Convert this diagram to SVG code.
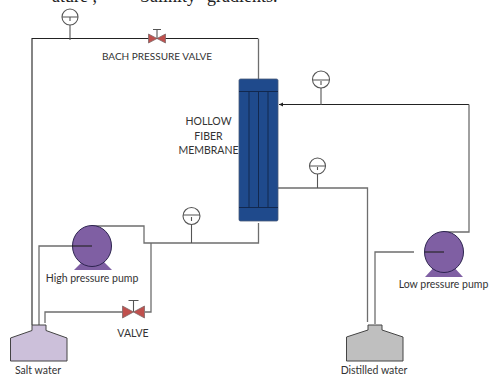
<svg xmlns="http://www.w3.org/2000/svg" width="490" height="375" viewBox="0 0 490 375">
<style>
.t{font-family:Lato,"Liberation Sans",sans-serif;font-size:10.5px;fill:#333;text-anchor:middle}
.top{font-family:"Liberation Serif",serif;font-size:18px;fill:#222}
.p{fill:none;stroke:#6e6e6e;stroke-width:1.3}
.k{fill:none;stroke:#222;stroke-width:1.1}
.g{fill:#fff;stroke:#555;stroke-width:1.1}
.gl{fill:none;stroke:#555;stroke-width:1.1}
.v{fill:#c0504d;stroke:#7f6a6a;stroke-width:.8}
.pump{fill:#7f5fa3;stroke:#2d2450;stroke-width:1}
.pb{fill:#7f5fa3}
.ml{stroke:#12284f;stroke-width:1;fill:none}
</style>
<defs>
<marker id="a" markerWidth="5" markerHeight="5" refX="4" refY="2" orient="auto"><path d="M0 0L4 2L0 4Z" fill="#222"/></marker>
</defs>
<rect width="490" height="375" fill="#fff"/>
<text class="top" y="1.500"><tspan x="52">ature ,</tspan><tspan x="140">Salinity</tspan><tspan x="207">gradients.</tspan></text>
<g id="connectors">
<path class="k" d="M32 325V38.500H258"/>
<path class="p" d="M258.500 38.500V79"/>
<path class="k" marker-end="url(#a)" d="M469 104.500H279"/>
<path class="p" d="M469 104.500V232H443"/>
<path class="p" d="M278 188H367.500V322"/>
<path class="p" d="M375 324V252H414"/>
<path class="p" d="M39 325V246H72"/>
<path class="p" d="M92 226H144V243H258.500V223"/>
<path class="p" d="M151 243V312H145"/>
<path class="p" d="M123 312H45V323"/>
</g>
<g id="gauge-1"><path class="gl" d="M70 25V40"/><circle class="g" cx="70" cy="17" r="8"/><path class="gl" d="M62 17H78M70 17V21"/></g>
<g id="gauge-2"><path class="gl" d="M321 88V105"/><circle class="g" cx="321" cy="79.500" r="8.500"/><path class="gl" d="M313 80H329M321 81V85"/></g>
<g id="gauge-3"><path class="gl" d="M317.500 174V188"/><circle class="g" cx="317.500" cy="166" r="8"/><path class="gl" d="M310 166H325M317.500 167V170"/></g>
<g id="gauge-4"><path class="gl" d="M191.500 224V243"/><circle class="g" cx="191.500" cy="216" r="8.500"/><path class="gl" d="M183 215H200M191.500 217V221"/></g>
<g id="back-pressure-valve">
<path class="gl" d="M157 29V38M153 29.500H161"/>
<path class="v" d="M148.500 34L157 38.500L148.500 43ZM165.500 34L157 38.500L165.500 43Z"/>
<text class="t" x="157" y="60" style="font-size:10px">BACH PRESSURE VALVE</text>
</g>
<g id="membrane">
<rect x="239" y="79" width="39" height="142" rx="1.500" fill="#1f4a8c" stroke="#4a5a78" stroke-width=".8"/>
<path class="ml" d="M239 91.500H278M239 207.500H278M249 91.500V207.500M258.500 91.500V207.500M268 91.500V207.500"/>
<text class="t" x="208.500" y="125">HOLLOW</text>
<text class="t" x="208.500" y="140">FIBER</text>
<text class="t" x="208.500" y="154">MEMBRANE</text>
</g>
<g id="high-pressure-pump">
<path class="pb" d="M74 270L86 258H100L112 270Z"/>
<ellipse class="pump" cx="92" cy="246" rx="19.500" ry="20.500"/>
<path class="k" d="M72 246H92"/>
<text class="t" x="92" y="282">High pressure pump</text>
</g>
<g id="low-pressure-pump">
<path class="pb" d="M425 277L437 264H451L463 277Z"/>
<ellipse class="pump" cx="444" cy="252" rx="19.500" ry="20.500"/>
<path class="k" d="M425 252H444"/>
<text class="t" x="443.500" y="288">Low pressure pump</text>
</g>
<g id="valve">
<path class="gl" d="M133.500 300V312M128.500 300.500H138.500"/>
<path class="v" d="M122.500 306L133.500 312L122.500 318ZM144.500 306L133.500 312L144.500 318Z"/>
<text class="t" x="133" y="337">VALVE</text>
</g>
<g id="salt-water">
<path d="M10.500 361V338L32 330.500V325H46V330.500L67 338V361Z" fill="#ccc0da" stroke="#444" stroke-width="1"/>
<text class="t" x="38" y="374">Salt water</text>
</g>
<g id="distilled-water">
<path d="M346.500 361V337L368 330V325H382V330L403 337V361Z" fill="#bfbfbf" stroke="#444" stroke-width="1"/>
<text class="t" x="374" y="374">Distilled water</text>
</g>
</svg>
